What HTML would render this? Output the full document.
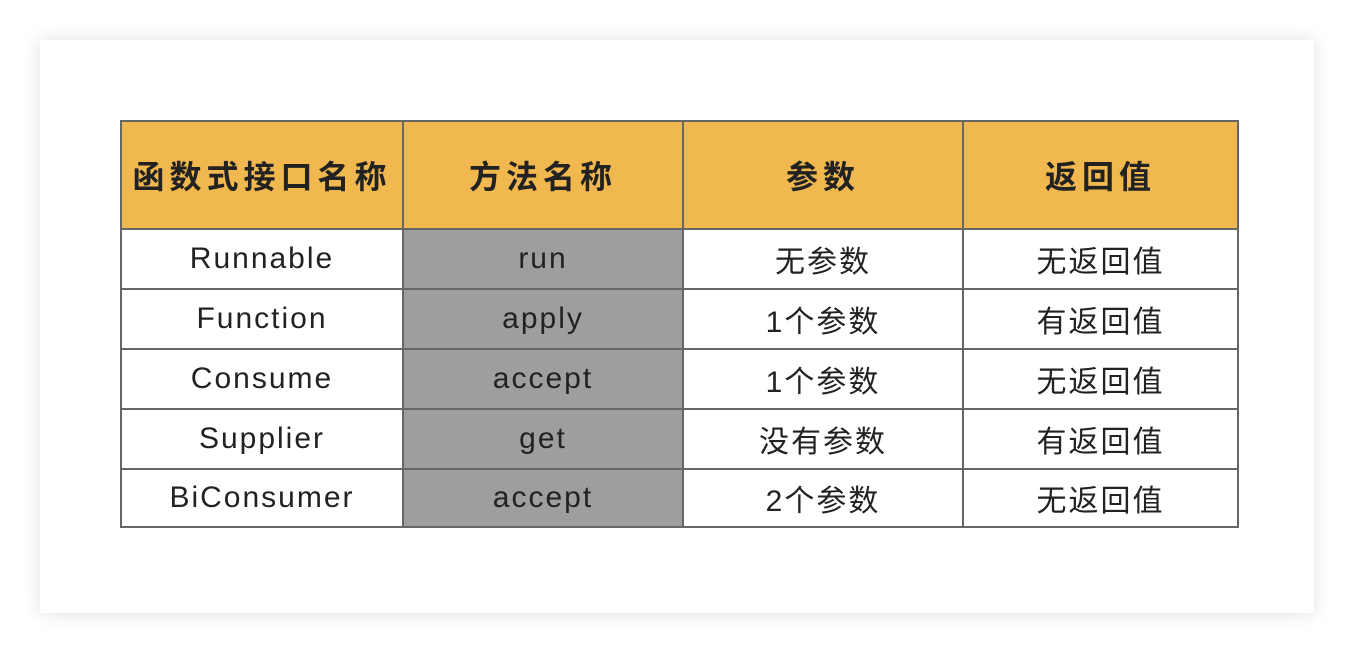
<!DOCTYPE html>
<html><head><meta charset="utf-8"><style>
body{margin:0;width:1354px;height:654px;background:#fff;position:relative;overflow:hidden;font-family:"Liberation Sans","Noto Sans CJK SC",sans-serif;}
.card{position:absolute;left:40px;top:40px;width:1274px;height:573px;background:#fff;box-shadow:0 0 18px rgba(0,0,0,0.12);}
.c{position:absolute;box-sizing:border-box;border:2px solid #666;display:flex;align-items:center;justify-content:center;font-size:30px;color:#222;letter-spacing:2px;}
.h{background:#F0B84F;font-weight:bold;font-size:32px;letter-spacing:5px;}
.g{background:#9E9E9E;}
</style></head><body>
<div class="card"></div>
<div id="t"></div>
<script>
var cols=[120,402,682,962,1237];
var rows=[120,228,288,348,408,468,526];
var data=[["函数式接口名称","方法名称","参数","返回值"],
["Runnable","run","无参数","无返回值"],
["Function","apply","1个参数","有返回值"],
["Consume","accept","1个参数","无返回值"],
["Supplier","get","没有参数","有返回值"],
["BiConsumer","accept","2个参数","无返回值"]];
var h="";
for(var r=0;r<6;r++)for(var c=0;c<4;c++){
var cls="c"+(r==0?" h":(c==1?" g":""));
h+='<div class="'+cls+'" style="left:'+cols[c]+'px;top:'+rows[r]+'px;width:'+(cols[c+1]-cols[c]+2)+'px;height:'+(rows[r+1]-rows[r]+2)+'px">'+data[r][c]+'</div>';}
document.getElementById("t").innerHTML=h;
</script>
</body></html>
